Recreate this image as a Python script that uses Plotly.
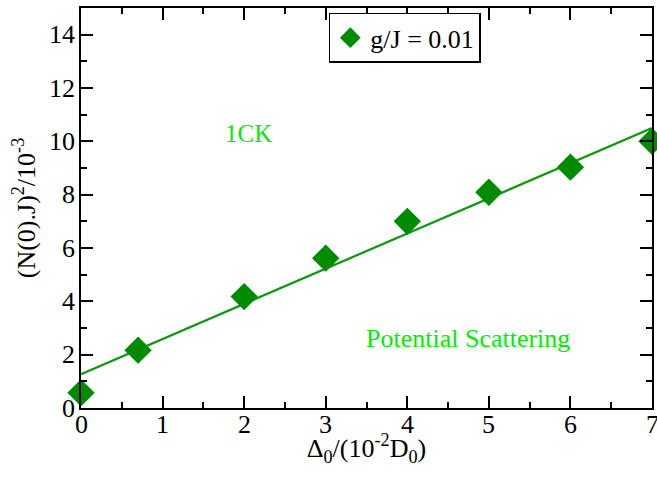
import plotly.graph_objects as go

x_vals = [0, 0.7, 2, 3, 4, 5, 6, 7]
y_vals = [0.57, 2.17, 4.18, 5.62, 7.0, 8.09, 9.03, 10.0]
fit_x = [0, 7]
fit_y = [1.27, 10.5]
series_name = "g/J = 0.01"
x_ticks = [0, 1, 2, 3, 4, 5, 6, 7]
y_ticks = [0, 2, 4, 6, 8, 10, 12, 14]

FONT = "Liberation Serif"
TICK_SIZE = 26

fig = go.Figure()
fig.add_trace(go.Scatter(x=fit_x, y=fit_y, mode="lines",
                         line=dict(color="#0a9a0a", width=2.2), showlegend=False, cliponaxis=True))
fig.add_trace(go.Scatter(x=x_vals, y=y_vals, mode="markers", name=series_name,
                         marker=dict(symbol="diamond", size=21, color="#008b00"),
                         cliponaxis=False))


def axis(rng, ticks, minor_dt, title, standoff):
    return dict(range=rng, tickmode="array", tickvals=ticks, showticklabels=False,
                showline=True, linecolor="black", linewidth=2, mirror="ticks",
                ticks="inside", ticklen=12, tickwidth=2, tickcolor="black",
                minor=dict(dtick=minor_dt, tick0=0, ticks="inside", ticklen=6,
                           tickwidth=2, tickcolor="black"),
                showgrid=False, zeroline=False,
                title=dict(text=title, font=dict(family=FONT, size=26, color="black"),
                           standoff=standoff))


# tick labels drawn as text at the axis tick values (serif font)
for t in x_ticks:
    fig.add_annotation(x=t, xref="x", y=0, yref="paper", yanchor="top", xanchor="center",
                       yshift=0, text=str(t), showarrow=False,
                       font=dict(family=FONT, size=TICK_SIZE, color="black"))
for t in y_ticks:
    fig.add_annotation(x=0, xref="paper", y=t, yref="y", xanchor="right", yanchor="middle",
                       xshift=-4, text=str(t), showarrow=False,
                       font=dict(family=FONT, size=TICK_SIZE, color="black"))

fig.add_annotation(x=2.05, y=10.3, text="1CK", showarrow=False,
                   font=dict(family=FONT, size=25, color="#00ee00"))
fig.add_annotation(x=4.75, y=2.62, text="Potential Scattering", showarrow=False,
                   font=dict(family=FONT, size=26, color="#00ee00"))

fig.update_layout(
    width=657, height=480,
    font=dict(family=FONT, size=26, color="black"),
    margin=dict(l=81, r=3, t=8, b=72),
    paper_bgcolor="white", plot_bgcolor="white",
    xaxis=axis([0, 7], x_ticks, 0.5, "Δ<sub>0</sub>/(10<sup>-2</sup>D<sub>0</sub>)", 30),
    yaxis=axis([0, 15], y_ticks, 1, "(N(0).J)<sup>2</sup>/10<sup>-3</sup>", 36),
    legend=dict(x=0.434, y=0.988, xanchor="left", yanchor="top",
                bordercolor="black", borderwidth=1.5, bgcolor="white",
                font=dict(family=FONT, size=26, color="black")),
)

fig.write_html("out.html")
